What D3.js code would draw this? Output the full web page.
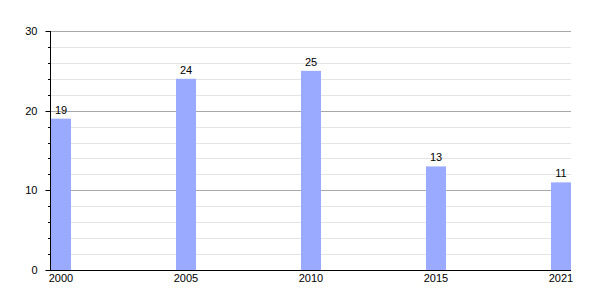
<!DOCTYPE html>
<html><head><meta charset="utf-8">
<script src="https://cdn.jsdelivr.net/npm/d3@7"></script>
<style>body{margin:0;background:#fff}svg{display:block}text{font-family:"Liberation Sans",Arial,sans-serif;font-size:11px;fill:#000}</style>
</head><body>
<script>
const categories = ["2000","2005","2010","2015","2021"];
const values = [19,24,25,13,11];
const yTicks = [0,10,20,30];
const yMinorTicks = [2,4,6,8,12,14,16,18,22,24,26,28];

const W=600,H=300, L=50.5, R=571, T=31, B=270;
const svg=d3.select("body").append("svg").attr("width",W).attr("height",H);
const x=d3.scaleBand().domain(categories).range([51,R]).paddingInner(0.84).paddingOuter(0);
const y=d3.scaleLinear().domain([0,30]).range([B,T]);

svg.append("g").selectAll("line").data(yMinorTicks).join("line")
  .attr("x1",L).attr("x2",R).attr("y1",d=>Math.round(y(d))+0.5).attr("y2",d=>Math.round(y(d))+0.5)
  .attr("stroke","#e4e4e4");
svg.append("g").selectAll("line").data(yTicks.filter(d=>d>0)).join("line")
  .attr("x1",L).attr("x2",R).attr("y1",d=>Math.round(y(d))+0.5).attr("y2",d=>Math.round(y(d))+0.5)
  .attr("stroke","#a8a8a8");

svg.append("g").selectAll("rect").data(values).join("rect")
  .attr("x",(d,i)=>x(categories[i])).attr("width",x.bandwidth())
  .attr("y",d=>y(d)).attr("height",d=>B-y(d)).attr("fill","#9aabff");

svg.append("g").selectAll("text").data(values).join("text")
  .attr("x",(d,i)=>x(categories[i])+x.bandwidth()/2).attr("y",d=>y(d)-5)
  .attr("text-anchor","middle").text(d=>d);

// y axis
const ya=svg.append("g").attr("transform",`translate(${L},0)`);
ya.append("line").attr("x1",0).attr("x2",0).attr("y1",T).attr("y2",B).attr("stroke","#000");
ya.selectAll(".mn").data(yMinorTicks).join("line").attr("class","mn")
  .attr("x1",-2.5).attr("x2",0).attr("y1",d=>Math.round(y(d))+0.5).attr("y2",d=>Math.round(y(d))+0.5).attr("stroke","#000");
ya.selectAll(".mj").data(yTicks).join("line").attr("class","mj")
  .attr("x1",-5).attr("x2",0).attr("y1",d=>Math.round(y(d))+0.5).attr("y2",d=>Math.round(y(d))+0.5).attr("stroke","#000");
ya.selectAll("text").data(yTicks).join("text")
  .attr("x",-13).attr("y",d=>y(d)+4).attr("text-anchor","end").text(d=>d);

// x axis
svg.append("line").attr("x1",L-0.5).attr("x2",R).attr("y1",B+0.5).attr("y2",B+0.5).attr("stroke","#000");
svg.append("g").selectAll("text").data(categories).join("text")
  .attr("x",d=>x(d)+x.bandwidth()/2).attr("y",B+12).attr("text-anchor","middle").text(d=>d);
</script>
</body></html>
